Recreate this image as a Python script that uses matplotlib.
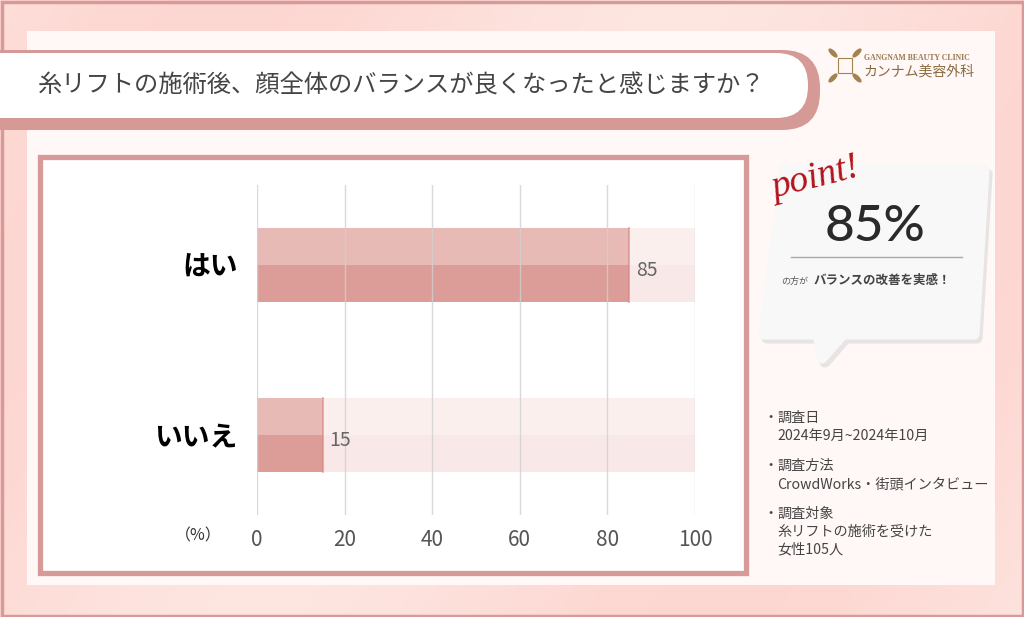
import matplotlib
matplotlib.use("Agg")
import matplotlib.pyplot as plt
import numpy as np
from matplotlib.patches import Rectangle, FancyBboxPatch, Polygon, Ellipse

plt.rcParams['font.family'] = ['Noto Sans CJK JP', 'DejaVu Sans']

# chart data
categories = ['はい', 'いいえ']
values = [85, 15]
xticks = [0, 20, 40, 60, 80, 100]

title = '糸リフトの施術後、顔全体のバランスが良くなったと感じますか？'
point_value = '85%'
point_lead = 'の方が'
point_text = 'バランスの改善を実感！'
notes = [
    ('調査日', ['2024年9月~2024年10月']),
    ('調査方法', ['CrowdWorks・街頭インタビュー']),
    ('調査対象', ['糸リフトの施術を受けた', '女性105人']),
]

W, H = 1024, 617
fig = plt.figure(figsize=(W / 100, H / 100), dpi=100)

# decoration layer in pixel coordinates
bg = fig.add_axes([0, 0, 1, 1], zorder=0)
bg.set_xlim(0, W)
bg.set_ylim(H, 0)
bg.axis('off')

# soft pink background
gx = np.linspace(0, 1, 200)
gy = np.linspace(0, 1, 120)
GX, GY = np.meshgrid(gx, gy)
c1 = np.array([0.992, 0.84, 0.82])
c2 = np.array([0.996, 0.90, 0.88])
t = (0.5 + 0.5 * np.sin(GX * 7 + GY * 3))[..., None]
img = c1 * t + c2 * (1 - t)
bg.imshow(img, extent=(0, W, H, 0), aspect='auto', zorder=0)
bg.add_patch(Rectangle((1.5, 1.5), W - 3, H - 3, fill=False, ec='#d89a98', lw=2.5, zorder=1))

# inner panel
bg.add_patch(Rectangle((27, 31), 968, 554, fc='#fff8f7', ec='none', zorder=1))

# title bar
bg.add_patch(FancyBboxPatch((-40, 50), 860, 80, boxstyle='round,pad=0,rounding_size=38',
                            fc='#d69a96', ec='none', zorder=2))
bg.add_patch(FancyBboxPatch((-40, 53), 848, 65, boxstyle='round,pad=0,rounding_size=32',
                            fc='white', ec='none', zorder=3))
bg.text(402, 86, title, fontsize=17.5, color='#454545', ha='center', va='center',
        zorder=4)

# logo
lx, ly = 833, 53
for dx, dy, ang in [(0, 0, 45), (24, 0, -45), (0, 25, -45), (24, 25, 45)]:
    bg.add_patch(Ellipse((lx + dx, ly + dy), 12, 5, angle=ang, fc='#a3844f', ec='none', zorder=3))
bg.add_patch(Rectangle((lx + 5, ly + 5), 14, 15, fill=False, ec='#a3844f', lw=0.8, zorder=3))
bg.text(864, 58, 'GANGNAM BEAUTY CLINIC', fontsize=5.6, color='#9a7a50',
        family='Liberation Serif', fontweight='bold', va='center', ha='left', zorder=3)
bg.text(863, 72, 'カンナム美容外科', fontsize=10, color='#8a6a40', va='center', ha='left', zorder=3)

# chart panel
bg.add_patch(Rectangle((40, 157), 706, 416, fc='white', ec='#d89a98', lw=3.8, zorder=2))
bg.text(222, 536, '（%）', fontsize=11.5, color='#333333', ha='right', va='center', zorder=4)

# point bubble
bubble = [(785, 170), (984, 170), (974, 334), (843, 334), (822, 358), (818, 334), (764, 334)]
shadow = [(x + 3, y + 4) for x, y in bubble]
bg.add_patch(Polygon(shadow, closed=True, fc='#cccccc', ec='#cccccc', lw=8,
                     joinstyle='round', alpha=0.45, zorder=2))
bg.add_patch(Polygon(bubble, closed=True, fc='#f8f8f8', ec='#f8f8f8', lw=8,
                     joinstyle='round', zorder=3))
bg.text(815, 178, 'point!', fontsize=27, color='#b3141b', family='Liberation Serif',
        style='italic', rotation=14, ha='center', va='center', zorder=4)
bg.text(875, 227, point_value, fontsize=37, color='#2a2a2a', family='Lato',
        fontweight='medium', ha='center', va='center', zorder=4)
bg.plot([791, 962], [257, 257], color='#a8a8a8', lw=1, zorder=4)
bg.text(781, 281, point_lead, fontsize=6.5, color='#555555', ha='left', va='center', zorder=4)
bg.text(814, 280, point_text, fontsize=9, color='#444444', fontweight='bold',
        ha='left', va='center', zorder=4)

# survey notes
ny = 418
for head, lines in notes:
    bg.text(763, ny, '・', fontsize=10.2, color='#444444', ha='left', va='center', zorder=4)
    bg.text(777, ny, head, fontsize=10.2, color='#444444', ha='left', va='center', zorder=4)
    ny += 18
    for line in lines:
        bg.text(777, ny, line, fontsize=10.2, color='#444444', ha='left', va='center', zorder=4)
        ny += 17
    ny += 13

# bar chart
ax = fig.add_axes([257 / W, 1 - 515 / H, 438 / W, 330 / H], zorder=1)
ax.patch.set_alpha(0)
y = np.arange(len(categories))
bh = 0.22
ax.barh(y - bh / 2, [100] * len(y), height=bh, color='#fbefee', zorder=1)
ax.barh(y + bh / 2, [100] * len(y), height=bh, color='#f8e8e7', zorder=1)
ax.barh(y - bh / 2, values, height=bh, color='#e8bab6', zorder=2)
ax.barh(y + bh / 2, values, height=bh, color='#dc9c98', zorder=2)
for yi, v in zip(y, values):
    ax.plot([v, v], [yi - bh, yi + bh], color='#d4857f', lw=1.2, alpha=0.7, zorder=3)
    ax.text(v + 1.6, yi + 0.03, str(v), fontsize=14, color='#666666', ha='left', va='center', zorder=4)

ax.set_xlim(0, 100)
ax.set_ylim(1.47, -0.47)
ax.set_xticks(xticks)
ax.set_xticklabels([str(x) for x in xticks], fontsize=15, color='#555555')
ax.tick_params(axis='x', length=0, pad=10)
ax.set_yticks(y)
ax.set_yticklabels(categories, fontsize=20, fontweight='bold', color='black')
ax.tick_params(axis='y', length=0, pad=14)
ax.grid(axis='x', color='#d0d0d0', lw=1, alpha=0.8, zorder=3)
ax.set_axisbelow(False)
for s in ax.spines.values():
    s.set_visible(False)

fig.savefig('out.png', dpi=100)
